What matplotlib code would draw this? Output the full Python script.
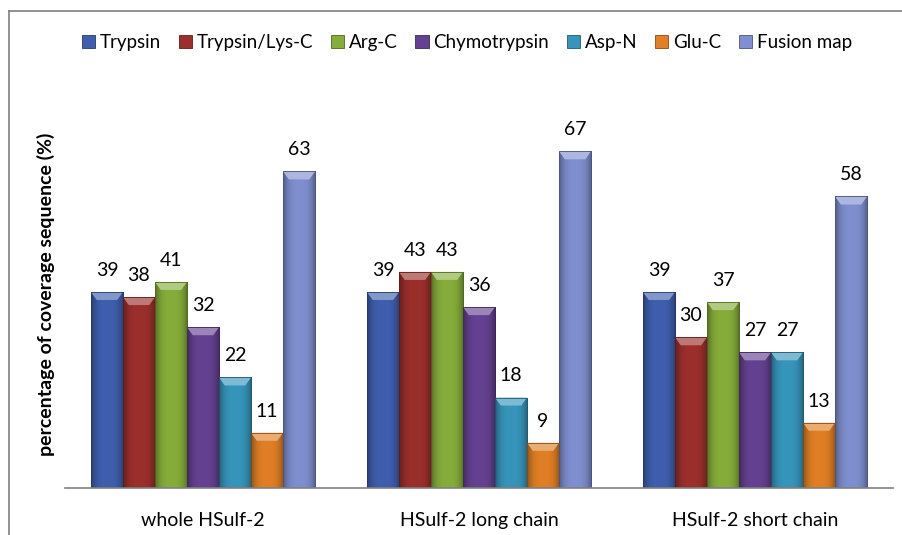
import numpy as np
import matplotlib
matplotlib.use("Agg")
import matplotlib.pyplot as plt
from matplotlib.patches import Polygon, Rectangle
from matplotlib.colors import to_rgb

plt.rcParams['font.family'] = ['Lato', 'DejaVu Sans']

groups = ["whole HSulf-2", "HSulf-2 long chain", "HSulf-2 short chain"]
enzymes = ["Trypsin", "Trypsin/Lys-C", "Arg-C", "Chymotrypsin", "Asp-N", "Glu-C", "Fusion map"]
trypsin = [39, 39, 39]
trypsin_lysc = [38, 43, 30]
arg_c = [41, 43, 37]
chymotrypsin = [32, 36, 27]
asp_n = [22, 18, 27]
glu_c = [11, 9, 13]
fusion_map = [63, 67, 58]
series = [trypsin, trypsin_lysc, arg_c, chymotrypsin, asp_n, glu_c, fusion_map]
colors = ["#3f5fae", "#9b2f2c", "#86ad3a", "#654191", "#3795bb", "#e07f25", "#7f8fcf"]


def shade(c, f):
    r = np.array(to_rgb(c))
    if f < 1:
        return tuple(r * f)
    return tuple(r + (1 - r) * (f - 1))


fig = plt.figure(figsize=(9.03, 5.35), dpi=100)
ax = fig.add_axes([65 / 903, 47 / 535, 828 / 903, 387 / 535])

x = np.arange(len(groups))
width = 0.116
handles = []
for i, (vals, col) in enumerate(zip(series, colors)):
    pos = x + (i - 3) * width
    bars = ax.bar(pos, vals, width, color=col, edgecolor=shade(col, 0.6),
                  linewidth=0.6, label=enzymes[i], zorder=2)
    handles.append(bars)
    for b, v in zip(bars, vals):
        x0, w, h = b.get_x(), b.get_width(), b.get_height()
        # horizontal shading to mimic the bevelled bars
        prof = 1 - 0.35 * np.abs(np.linspace(-1, 1, 40)) ** 3
        img = np.array([[shade(col, p) for p in prof]])
        im = ax.imshow(img, extent=[x0, x0 + w, 0, h], aspect='auto',
                       interpolation='bicubic', zorder=2.1)
        im.set_clip_path(b)
        bev = 1.6
        ins = w * 0.18
        ax.add_patch(Polygon([[x0, h], [x0 + w, h], [x0 + w - ins, h - bev],
                              [x0 + ins, h - bev]], closed=True,
                             facecolor=shade(col, 1.35), edgecolor='none', zorder=2.2))
        ax.add_patch(Rectangle((x0, 0), w, h, fill=False,
                               edgecolor=shade(col, 0.6), linewidth=0.6, zorder=2.3))
        ax.text(b.get_x() + w / 2, h + 2.6, str(v), ha='center', va='bottom',
                fontsize=14, color='black')

ax.set_xlim(-0.5, 2.5)
ax.set_ylim(0, 77)
ax.set_xticks(x)
ax.set_xticklabels(groups, fontsize=14)
ax.tick_params(axis='x', length=0, pad=17)
ax.set_yticks([])
for s in ['top', 'right', 'left']:
    ax.spines[s].set_visible(False)
ax.spines['bottom'].set_color('#808080')
ax.spines['bottom'].set_linewidth(1.2)
ax.set_ylabel("percentage of coverage sequence (%)", fontsize=14,
              fontweight='bold', labelpad=7)

fig.legend(handles=handles, labels=enzymes, loc='center', ncol=7,
           bbox_to_anchor=(0.517, 0.92), frameon=False, fontsize=13.5,
           handlelength=0.7, handleheight=0.7, handletextpad=0.25,
           columnspacing=0.95)

# outer frame (top and left edges visible)
fig.add_artist(plt.Line2D([9 / 903, 1], [1 - 11 / 535, 1 - 11 / 535],
                          transform=fig.transFigure, color='#808080', lw=1.2))
fig.add_artist(plt.Line2D([9 / 903, 9 / 903], [0, 1 - 11 / 535],
                          transform=fig.transFigure, color='#808080', lw=1.2))

fig.savefig("out.png", dpi=100)
